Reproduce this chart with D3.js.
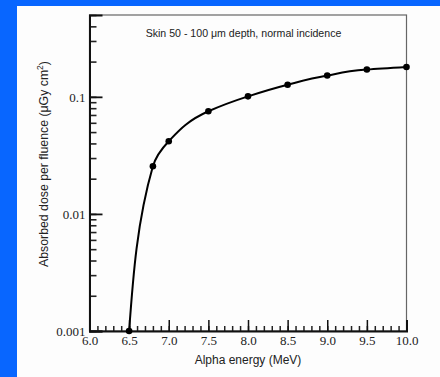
<!DOCTYPE html>
<html>
<head>
<meta charset="utf-8">
<script src="https://cdn.jsdelivr.net/npm/d3@7"></script>
<style>
  body { margin: 0; background: #0866ff; }
  svg { display: block; }
</style>
</head>
<body>
<div class="chart"></div>
<script>
// data
const energies = [6.5, 6.8, 7.0, 7.5, 8.0, 8.5, 9.0, 9.5, 10.0];
const doses = [0.001, 0.0255, 0.0418, 0.0753, 0.101, 0.127, 0.152, 0.171, 0.180];
const yLabels = [0.001, 0.01, 0.1];
const xLabels = [6.0, 6.5, 7.0, 7.5, 8.0, 8.5, 9.0, 9.5, 10.0];
const title = "Skin 50 - 100 \u03bcm depth, normal incidence";

const width = 440;
const height = 377;
const margin = { top: 15, bottom: 46, left: 89.5, right: 33.5 };

const svg = d3.select('.chart')
  .append('svg')
  .attr('width', width)
  .attr('height', height)

// white panel
svg.append('rect')
  .attr('x', 17).attr('y', 6)
  .attr('width', width - 17).attr('height', height - 6)
  .attr('fill', '#fdfdfd')

const x = d3.scaleLinear()
  .domain([6, 10])
  .range([margin.left, width - margin.right])

const y = d3.scaleLog()
  .domain([0.001, 0.5])
  .range([height - margin.bottom, margin.top])

// frame
svg.append('rect')
  .attr('x', x(6)).attr('y', y(0.5))
  .attr('width', x(10) - x(6)).attr('height', y(0.001) - y(0.5))
  .attr('fill', 'none')
  .attr('stroke', '#666')
  .attr('stroke-width', 1.2)

const serif = '"Liberation Serif", "DejaVu Serif", serif';
const sans = '"Liberation Sans", Arial, sans-serif';

// y axis: minor ticks then labelled decades
svg.append('g')
  .attr('transform', `translate(${margin.left},0)`)
  .call(d3.axisLeft(y).tickValues(y.ticks()).tickSize(-7).tickFormat(''))
  .call(g => g.select('.domain').remove())
  .call(g => g.selectAll('line').attr('stroke', '#222').attr('stroke-width', 1.6))

svg.append('g')
  .attr('transform', `translate(${margin.left},0)`)
  .call(d3.axisLeft(y).tickValues(yLabels).tickSize(-13).tickPadding(4).tickFormat(d => String(d)))
  .call(g => g.select('.domain').attr('stroke', '#111').attr('stroke-width', 2))
  .call(g => g.selectAll('line').attr('stroke', '#111').attr('stroke-width', 1.8))
  .call(g => g.selectAll('text').attr('font-family', serif).attr('font-size', 13).attr('fill', '#222'))

// x axis
svg.append('g')
  .attr('transform', `translate(0,${height - margin.bottom})`)
  .call(d3.axisBottom(x).ticks(40).tickSize(-5).tickFormat(''))
  .call(g => g.select('.domain').remove())
  .call(g => g.selectAll('line').attr('stroke', '#222').attr('stroke-width', 1.5))

svg.append('g')
  .attr('transform', `translate(0,${height - margin.bottom})`)
  .call(d3.axisBottom(x).tickValues(xLabels).tickSize(-11).tickPadding(5).tickFormat(d3.format('.1f')))
  .call(g => g.select('.domain').attr('stroke', '#111').attr('stroke-width', 2))
  .call(g => g.selectAll('line').attr('stroke', '#111').attr('stroke-width', 1.5))
  .call(g => g.selectAll('text').attr('font-family', serif).attr('font-size', 13).attr('fill', '#222'))

// axis titles
svg.append('text')
  .attr('x', (x(6) + x(10)) / 2)
  .attr('y', 364)
  .attr('text-anchor', 'middle')
  .attr('font-family', sans)
  .attr('font-size', 12)
  .attr('fill', '#222')
  .text('Alpha energy (MeV)')

const yTitle = svg.append('text')
  .attr('transform', 'translate(48,164) rotate(-90)')
  .attr('text-anchor', 'middle')
  .attr('font-family', sans)
  .attr('font-size', 12.3)
  .attr('fill', '#222')
yTitle.append('tspan').text('Absorbed dose per fluence (\u03bcGy cm')
yTitle.append('tspan').attr('dy', -5).attr('font-size', 8.5).text('2')
yTitle.append('tspan').attr('dy', 5).text(')')

svg.append('text')
  .attr('x', 243.5)
  .attr('y', 37)
  .attr('text-anchor', 'middle')
  .attr('font-family', sans)
  .attr('font-size', 10.6)
  .attr('fill', '#222')
  .text(title)

// curve + points
const data = energies.map((e, i) => ({ e, d: doses[i] }));

const line = d3.line()
  .x(d => x(d.e))
  .y(d => y(d.d))
  .curve(d3.curveMonotoneY)

svg.append('path')
  .datum(data)
  .attr('fill', 'none')
  .attr('stroke', '#000')
  .attr('stroke-width', 2)
  .attr('d', line)

svg.append('g')
  .selectAll('circle')
  .data(data)
  .join('circle')
  .attr('cx', d => x(d.e))
  .attr('cy', d => y(d.d))
  .attr('r', 3.3)
  .attr('fill', '#000')
</script>
</body>
</html>
